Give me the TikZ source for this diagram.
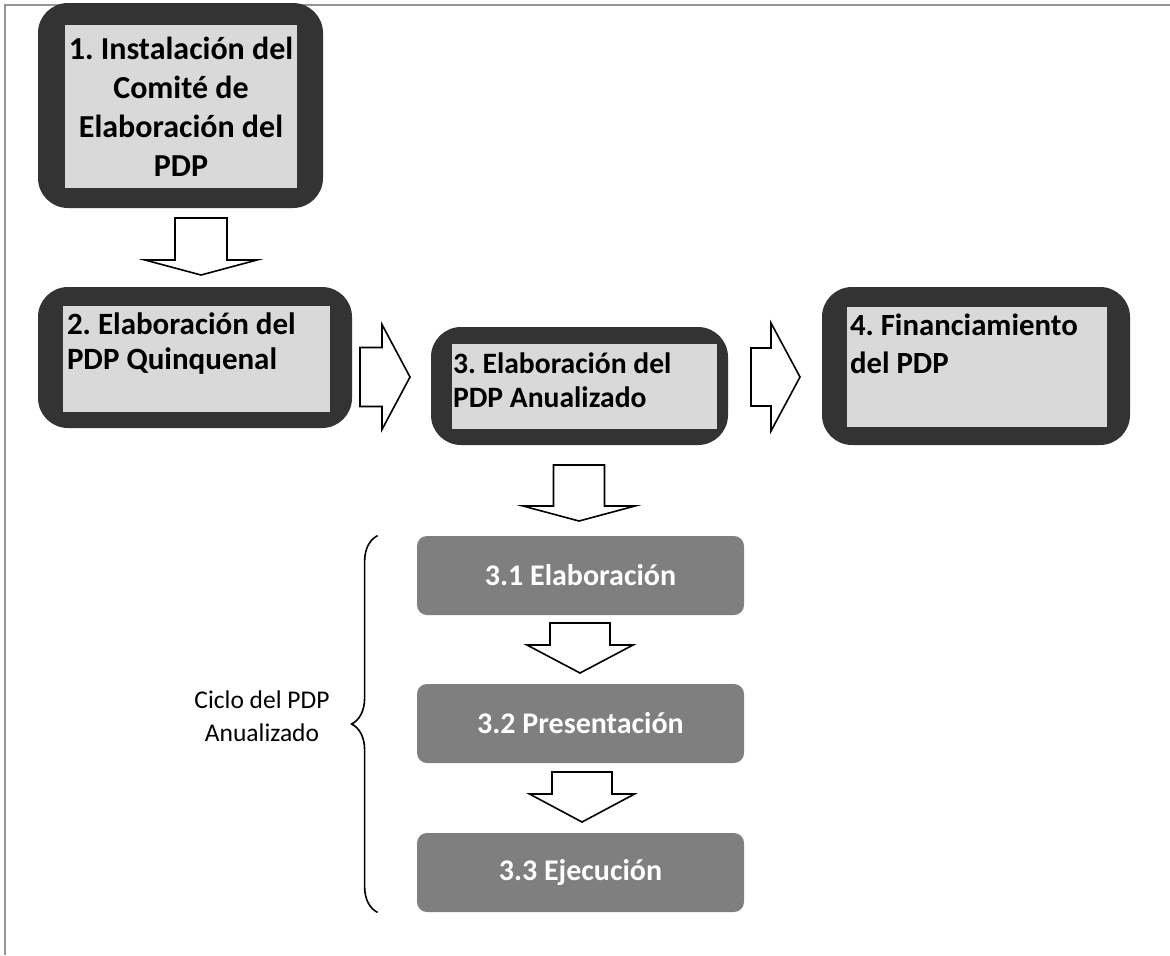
\documentclass[tikz,border=0pt]{standalone}
\usepackage{fontspec}
\setmainfont{Carlito}
\frenchspacing
\usetikzlibrary{fit, calc, decorations.pathreplacing}
\definecolor{framedark}{HTML}{333333}
\definecolor{panegray}{HTML}{D9D9D9}
\definecolor{stepgray}{HTML}{7F7F7F}
\definecolor{pagegray}{HTML}{959595}
\tikzset{
	outerbox/.style = {
		fill = framedark,
		rounded corners = 15pt,
		inner sep = 0pt
	},
	pane/.style = {
		fill = panegray,
		inner sep = 0pt
	},
	boxtext/.style = {
		font = \bfseries,
		inner sep = 0pt,
		align = left,
		anchor = north west
	},
	stepbox/.style = {
		fill = stepgray,
		rounded corners = 5pt,
		inner sep = 0pt,
		minimum width = 163.5pt,
		minimum height = 39.5pt,
		text = white,
		font = \fontsize{15pt}{18pt}\selectfont\bfseries
	},
	blockline/.style = {
		draw = black,
		fill = white,
		line width = 0.8pt
	},
	pageline/.style = {
		draw = pagegray,
		line width = 1pt
	}
}
% hollow block arrow: tail, angle, length, half shaft, half head, head length
\newcommand{\blockarrow}[6]{%
	\draw[blockline, shift={(#1)}, rotate=#2]
		(0,-#4) -- ({#3-#6},-#4) -- ({#3-#6},-#5) -- (#3,0) -- ({#3-#6},#5) -- ({#3-#6},#4) -- (0,#4) -- cycle;
}

\begin{document}
\begin{tikzpicture}[x = 0.5pt, y = -0.5pt]
	\useasboundingbox (0,0) rectangle (1170,955);
	\draw[pageline] (1170,5) -- (5,5) -- (5,955);

	% main steps
	\node[outerbox, fit = {(38,3) (323,208)}]   (b1) {};
	\node[pane, fit = {(65,25) (297,188)}]      (p1) {};
	\node[font = \fontsize{16pt}{19.5pt}\selectfont\bfseries, align = center] at (p1)
		{1. Instalación del\\Comité de\\Elaboración del\\PDP};

	\node[outerbox, fit = {(38,287) (352,428)}] (b2) {};
	\node[pane, fit = {(63,306) (330,412)}]     (p2) {};
	\node[boxtext, font = \fontsize{15.5pt}{17.5pt}\selectfont\bfseries] at ($(p2.north west)+(4,7)$)
		{2. Elaboración del\\PDP Quinquenal};

	\node[outerbox, fit = {(431,327) (728,445)}] (b3) {};
	\node[pane, fit = {(452,344) (717,429)}]     (p3) {};
	\node[boxtext, font = \fontsize{14.8pt}{17pt}\selectfont\bfseries] at ($(p3.north west)+(1,9)$)
		{3. Elaboración del\\PDP Anualizado};

	\node[outerbox, fit = {(822,287) (1130,445)}] (b4) {};
	\node[pane, fit = {(847,307) (1107,427)}]     (p4) {};
	\node[boxtext, font = \fontsize{15.4pt}{19pt}\selectfont\bfseries] at ($(p4.north west)+(3,7)$)
		{4. Financiamiento\\del PDP};

	% annual cycle
	\node[stepbox] (s1) at (580.5,575.5) {3.1 Elaboración};
	\node[stepbox] (s2) at (580.5,723.5) {3.2 Presentación};
	\node[stepbox] (s3) at (580.5,872.5) {3.3 Ejecución};

	\draw[decorate, decoration = {brace, amplitude = 13pt}, line width = 0.8pt]
		($(s3.south west)+(-39,0)$) -- ($(s1.north west)+(-39,0)$);
	\node[font = \fontsize{12.75pt}{16.5pt}\selectfont, align = center] (ciclo) at (262,716)
		{Ciclo del PDP\\Anualizado};

	% block arrows
	\coordinate (t1) at (201,218);
	\coordinate (t2) at (360,377);
	\coordinate (t3) at (751,377);
	\coordinate (t4) at (579,465);
	\coordinate (t5) at (580,623);
	\coordinate (t6) at (582,772);
	\blockarrow{t1}{-90}{57}{26}{56}{15}
	\blockarrow{t2}{0}{50}{29.5}{52.5}{28}
	\blockarrow{t3}{0}{49}{29}{54}{29}
	\blockarrow{t4}{-90}{56}{25.5}{56}{15}
	\blockarrow{t5}{-90}{50}{30}{53}{28}
	\blockarrow{t6}{-90}{50}{30}{52.5}{28}
\end{tikzpicture}
\end{document}
